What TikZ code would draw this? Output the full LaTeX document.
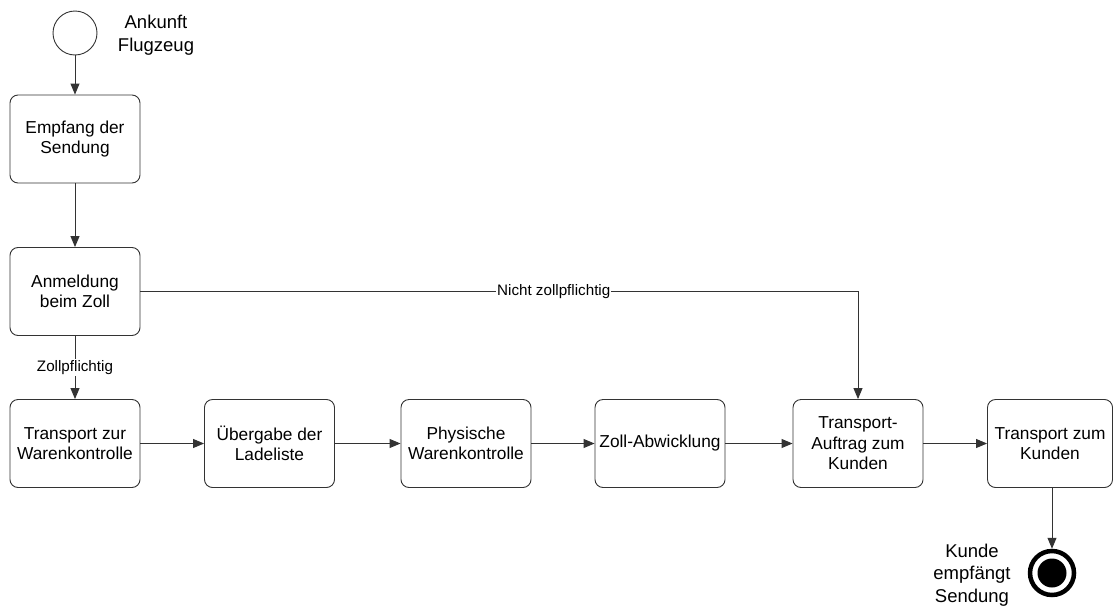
\documentclass[tikz,border=0pt]{standalone}
\usepackage{fontspec}
\setmainfont{Liberation Sans}
\usetikzlibrary{arrows.meta}
\begin{document}
\begin{tikzpicture}[x=1pt,y=-1pt,
  lc/.style={draw=black!80, line width=0.9pt},
  task/.style={lc, rounded corners=8pt, minimum width=130pt, minimum height=88pt,
    align=center, inner sep=2pt, font=\fontsize{17.3}{20.5}\selectfont, fill=white},
  flow/.style={lc, -{Triangle[length=11pt,width=9pt]}},
  lbl/.style={fill=white, inner sep=1pt, font=\fontsize{15.2}{18}\selectfont},
  evtext/.style={align=center, font=\fontsize{18.5}{22.5}\selectfont}]
\useasboundingbox (0,0) rectangle (1113,608);

% start event
\node[circle, draw=black!80, line width=0.9pt, minimum size=44pt, inner sep=0pt] (start) at (75,33) {};
\node[evtext] (startlbl) at (156,35) {Ankunft\\Flugzeug};

% left column
\node[task] (empf) at (75,139) {Empfang der\\Sendung};
\node[task] (anm) at (75,291.5) {Anmeldung\\beim Zoll};

% bottom row
\node[task] (trw) at (75,443.5) {Transport zur\\Warenkontrolle};
\node[task] (ueb) at (269.5,443.5) {Übergabe der\\Ladeliste};
\node[task] (phy) at (466,443.5) {Physische\\Warenkontrolle};
\node[task] (zoll) at (660,443.5) {Zoll-Abwicklung};
\node[task] (auft) at (858,443.5) {Transport-\\Auftrag zum\\Kunden};
\node[task, minimum width=125pt] (trk) at (1050,443.5) {Transport zum\\Kunden};

% end event
\node[circle, draw=black, line width=4.5pt, minimum size=44pt, inner sep=0pt] (end) at (1052,573) {};
\fill[black] (end.center) circle (14.5pt);
\node[evtext] (endlbl) at (972,575) {Kunde\\empfängt\\Sendung};

% flows
\draw[flow] (start) -- (empf);
\draw[flow] (empf) -- (anm);
\draw[flow] (anm) -- node[lbl] {Zollpflichtig} (trw);
\draw[flow] (anm.east) -| node[lbl, pos=0.288] {Nicht zollpflichtig} (auft.north);
\draw[flow] (trw) -- (ueb);
\draw[flow] (ueb) -- (phy);
\draw[flow] (phy) -- (zoll);
\draw[flow] (zoll) -- (auft);
\draw[flow] (auft) -- (trk);
\draw[flow] (trk.south -| end.north) -- (end);
\end{tikzpicture}
\end{document}
